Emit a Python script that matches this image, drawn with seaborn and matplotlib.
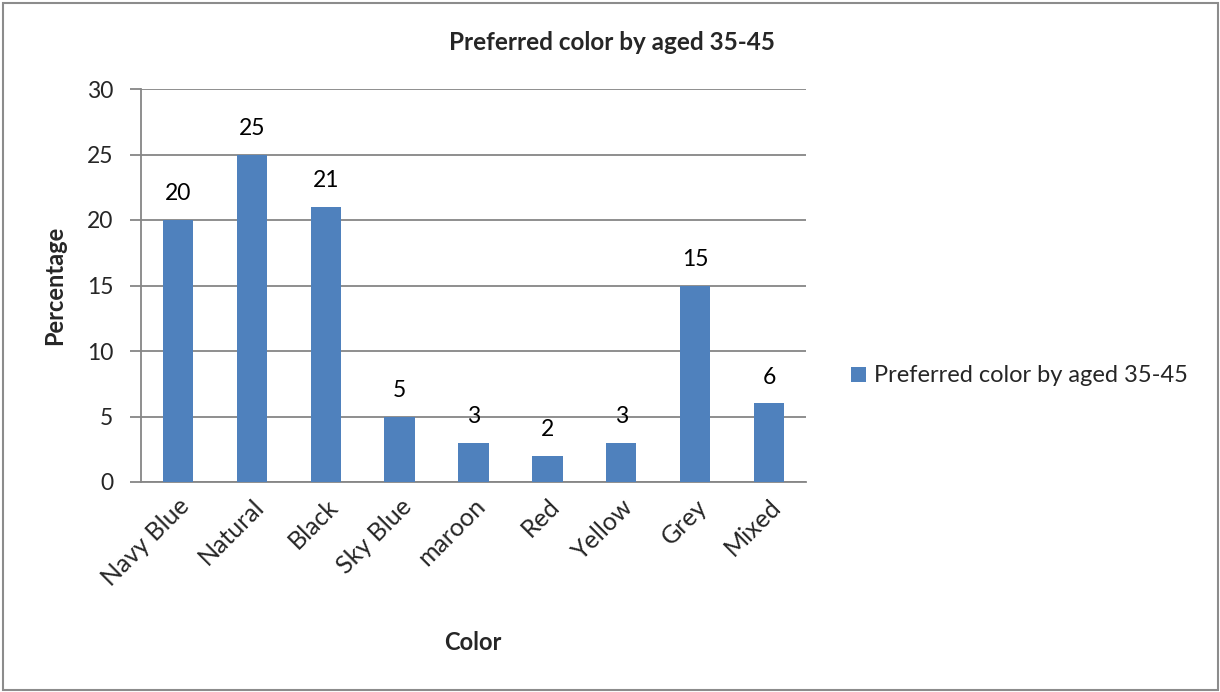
import matplotlib
matplotlib.use("Agg")
import matplotlib.pyplot as plt
import seaborn as sns
import pandas as pd
import numpy as np
from matplotlib.patches import Rectangle, Patch

categories = ["Navy Blue", "Natural", "Black", "Sky Blue", "maroon", "Red", "Yellow", "Grey", "Mixed"]
values = [20, 25, 21, 5, 3, 2, 3, 15, 6]
series_name = "Preferred color by aged 35-45"
y_ticks = [0, 5, 10, 15, 20, 25, 30]

sns.set_theme(style="white")
plt.rcParams["font.family"] = ["Lato", "DejaVu Sans"]

df = pd.DataFrame({"Color": categories, "Percentage": values})
bar_color = "#4F81BD"
grid_color = "#868686"

fig = plt.figure(figsize=(12.2, 6.92), dpi=100)
ax = fig.add_axes([141 / 1220, 210 / 692, 665 / 1220, 393 / 692])

sns.barplot(data=df, x="Color", y="Percentage", color=bar_color, width=0.41,
            saturation=1, linewidth=0, ax=ax, zorder=3)

ax.set_xlim(-0.5, len(categories) - 0.5)
ax.set_ylim(0, 30)
ax.set_yticks(y_ticks)
ax.set_yticklabels([str(t) for t in y_ticks], fontsize=16.5)
ax.yaxis.grid(True, color=grid_color, linewidth=1.3, zorder=0)
ax.set_axisbelow(True)

# category boundary ticks on the x axis
ax.set_xticks(np.arange(len(categories)))
ax.set_xticklabels(categories, rotation=45, ha="right", rotation_mode="anchor", fontsize=18)
ax.set_xticks(np.arange(len(categories) + 1) - 0.5, minor=True)
ax.tick_params(axis="x", which="major", length=0, pad=9)
ax.tick_params(axis="x", which="minor", length=7, width=1.3, color=grid_color, direction="out")
ax.tick_params(axis="y", length=8, width=1.3, color=grid_color, direction="out", pad=12, left=True)

for side in ["top", "right"]:
    ax.spines[side].set_visible(False)
for side in ["left", "bottom"]:
    ax.spines[side].set_color(grid_color)
    ax.spines[side].set_linewidth(1.3)

for i, v in enumerate(values):
    ax.text(i, v + 1.2, str(v), ha="center", va="bottom", fontsize=16.5, color="black")

ax.set_ylabel("")
ax.set_xlabel("")
fig.text(55 / 1220, 1 - 285 / 692, "Percentage", rotation=90, ha="center", va="center",
         fontsize=17, fontweight="bold")
fig.text(473 / 1220, 1 - 643 / 692, "Color", ha="center", va="center",
         fontsize=17, fontweight="bold")

fig.text(612 / 1220, 1 - 42 / 692, series_name, ha="center", va="center",
         fontsize=17.5, fontweight="bold")

handle = Patch(facecolor=bar_color, edgecolor="none")
fig.legend([handle], [series_name], loc="center left", bbox_to_anchor=(851 / 1220, 1 - 376 / 692),
           frameon=False, fontsize=17, borderpad=0, borderaxespad=0,
           handlelength=0.62, handleheight=0.62, handletextpad=0.35)

fig.patches.append(Rectangle((3 / 1220, 2 / 692), 1215 / 1220, 687 / 692, transform=fig.transFigure,
                             fill=False, edgecolor="#8c8c8c", linewidth=1.5))

fig.savefig("out.png", dpi=100, facecolor="white")
